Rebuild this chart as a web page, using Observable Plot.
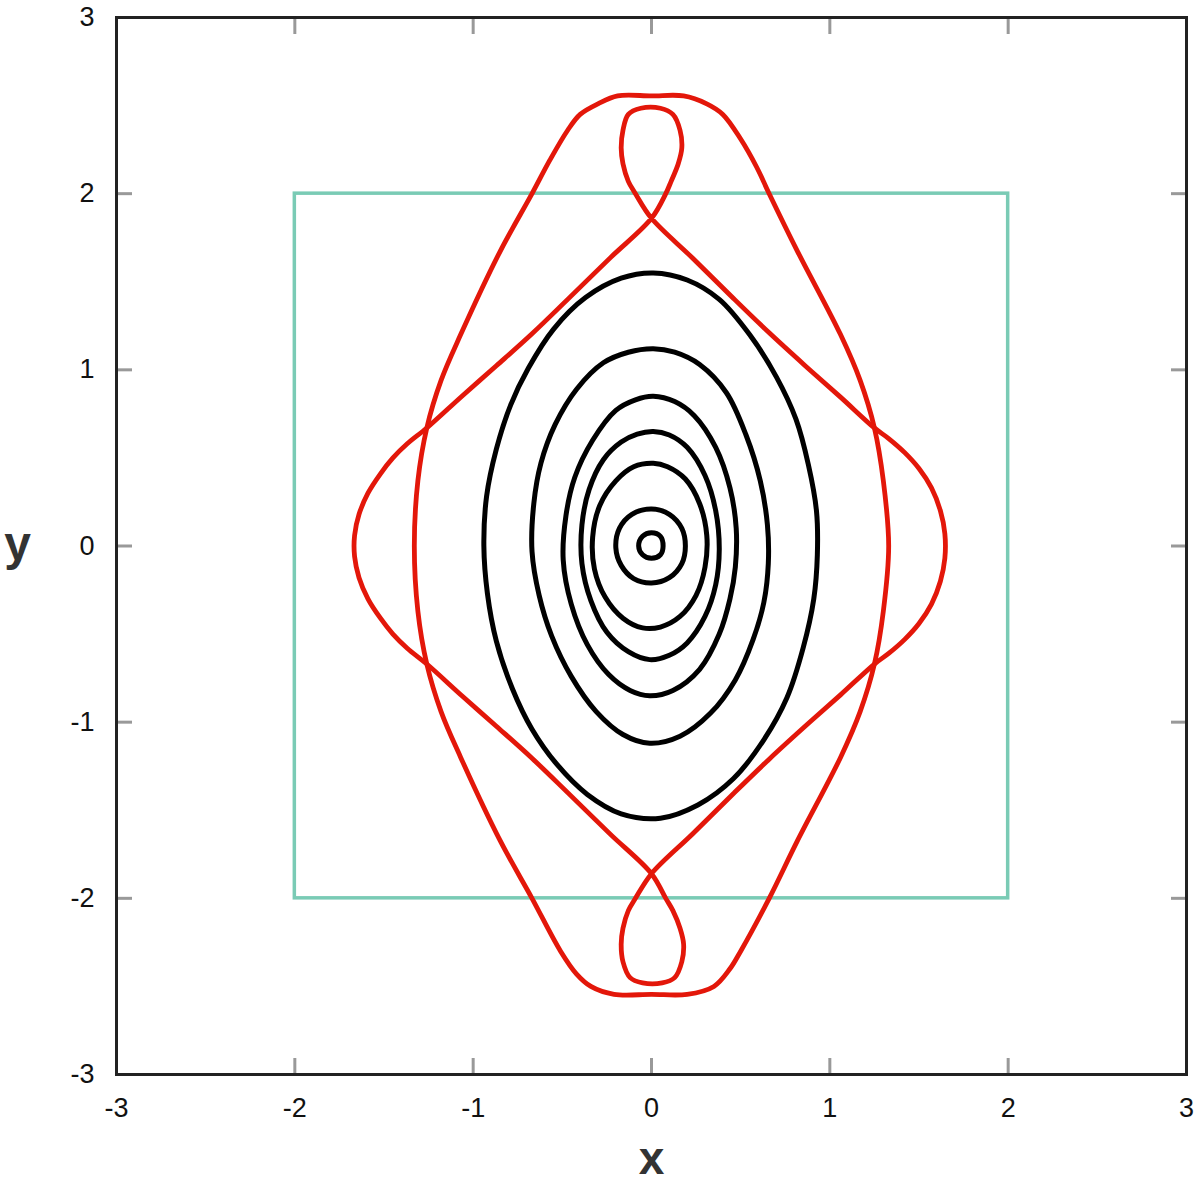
<!DOCTYPE html>
<html>
<head>
<meta charset="utf-8">
<script src="https://cdn.jsdelivr.net/npm/d3@7"></script>
<script src="https://cdn.jsdelivr.net/npm/@observablehq/plot@0.6"></script>
<style>
  html, body { margin: 0; padding: 0; background: #fff; }
  #chart { width: 1200px; height: 1185px; }
</style>
</head>
<body>
<div id="chart"></div>
<script>
// Tick values
const xTicks = [-3, -2, -1, 0, 1, 2, 3];
const yTicks = [-3, -2, -1, 0, 1, 2, 3];

// Teal square (corners)
const boxX = [-2, 2];
const boxY = [-2, 2];

// Black closed orbits, [x, y]
const ring1 = [[0.01,1.55],[0.20,1.51],[0.38,1.40],[0.55,1.20],[0.70,0.96],[0.81,0.72],[0.88,0.46],[0.925,0.20],[0.93,-0.05],[0.91,-0.30],[0.85,-0.58],[0.76,-0.86],[0.63,-1.10],[0.46,-1.32],[0.26,-1.47],[0.05,-1.545],[-0.17,-1.52],[-0.36,-1.41],[-0.53,-1.24],[-0.67,-1.04],[-0.78,-0.81],[-0.87,-0.54],[-0.92,-0.27],[-0.94,0],[-0.925,0.28],[-0.87,0.55],[-0.79,0.80],[-0.69,1.01],[-0.55,1.23],[-0.37,1.41],[-0.17,1.52]];
const ring2 = [[0.01,1.12],[0.13,1.10],[0.27,1.03],[0.42,0.87],[0.53,0.63],[0.61,0.37],[0.65,0.12],[0.655,-0.10],[0.63,-0.32],[0.57,-0.53],[0.47,-0.76],[0.33,-0.95],[0.16,-1.08],[-0.01,-1.12],[-0.16,-1.07],[-0.31,-0.94],[-0.45,-0.74],[-0.56,-0.51],[-0.63,-0.28],[-0.67,-0.03],[-0.66,0.24],[-0.62,0.47],[-0.54,0.69],[-0.42,0.89],[-0.27,1.04],[-0.13,1.10]];
const ring3 = [[0.01,0.85],[0.13,0.82],[0.24,0.74],[0.36,0.56],[0.44,0.33],[0.475,0.10],[0.47,-0.12],[0.44,-0.30],[0.38,-0.50],[0.27,-0.70],[0.12,-0.82],[-0.01,-0.85],[-0.12,-0.82],[-0.24,-0.73],[-0.36,-0.56],[-0.45,-0.33],[-0.495,-0.08],[-0.48,0.17],[-0.43,0.39],[-0.33,0.60],[-0.20,0.77],[-0.09,0.83]];
const ring4 = [[0.01,0.65],[0.10,0.63],[0.20,0.56],[0.30,0.40],[0.36,0.20],[0.38,-0.02],[0.36,-0.22],[0.30,-0.40],[0.20,-0.55],[0.10,-0.62],[-0.01,-0.645],[-0.13,-0.60],[-0.25,-0.49],[-0.34,-0.31],[-0.39,-0.10],[-0.39,0.12],[-0.35,0.32],[-0.27,0.49],[-0.17,0.59],[-0.08,0.635]];
const ring5 = [[0.01,0.47],[0.09,0.45],[0.19,0.38],[0.27,0.24],[0.31,0.06],[0.30,-0.12],[0.25,-0.28],[0.16,-0.40],[0.05,-0.46],[-0.05,-0.465],[-0.16,-0.41],[-0.26,-0.29],[-0.32,-0.13],[-0.33,0.05],[-0.29,0.23],[-0.20,0.37],[-0.10,0.45]];
const ring6 = [[0,0.21],[0.10,0.18],[0.17,0.10],[0.19,0],[0.17,-0.10],[0.10,-0.18],[0,-0.21],[-0.10,-0.185],[-0.17,-0.11],[-0.20,-0.01],[-0.18,0.10],[-0.11,0.18]];
const ring7 = [[0,0.075],[0.05,0.055],[0.065,0],[0.05,-0.05],[0,-0.07],[-0.05,-0.05],[-0.072,0],[-0.05,0.055]];

// Red outer curve
const outerRed = [[-0.19,2.555],[0,2.555],[0.18,2.555],[0.31,2.51],[0.40,2.45],[0.50,2.31],[0.59,2.15],[0.66,2.00],[0.82,1.67],[1.06,1.20],[1.17,0.94],[1.25,0.67],[1.30,0.37],[1.33,0],[1.30,-0.37],[1.25,-0.67],[1.17,-0.94],[1.06,-1.20],[0.82,-1.67],[0.66,-2.00],[0.50,-2.30],[0.44,-2.40],[0.35,-2.50],[0.20,-2.545],[0,-2.545],[-0.21,-2.545],[-0.34,-2.50],[-0.42,-2.43],[-0.51,-2.30],[-0.67,-2.00],[-0.85,-1.67],[-1.07,-1.20],[-1.18,-0.94],[-1.26,-0.67],[-1.31,-0.37],[-1.33,0],[-1.31,0.37],[-1.26,0.67],[-1.18,0.94],[-1.07,1.20],[-0.85,1.67],[-0.67,2.00],[-0.57,2.19],[-0.47,2.36],[-0.40,2.45],[-0.30,2.51]];

// Red diamond with two loops (one closed, self-crossing path)
const loopRed = [
  [0,1.86],[0.23,1.635],[0.46,1.405],[0.66,1.21],[0.86,1.025],[1.06,0.845],[1.25,0.67],
  [1.33,0.61],[1.42,0.53],[1.50,0.44],[1.57,0.33],[1.62,0.20],[1.645,0.07],[1.645,-0.07],[1.62,-0.20],[1.57,-0.33],[1.50,-0.44],[1.42,-0.53],[1.33,-0.61],
  [1.25,-0.67],[1.06,-0.845],[0.86,-1.025],[0.66,-1.21],[0.46,-1.405],[0.23,-1.635],[0,-1.86],
  [-0.09,-2.00],[-0.13,-2.07],[-0.16,-2.17],[-0.17,-2.26],[-0.16,-2.36],[-0.12,-2.45],[-0.05,-2.48],[0.06,-2.48],[0.13,-2.45],[0.17,-2.36],[0.18,-2.26],[0.16,-2.17],[0.12,-2.07],[0.08,-2.00],
  [0,-1.86],[-0.23,-1.637],[-0.47,-1.40],[-0.67,-1.205],[-0.87,-1.023],[-1.06,-0.853],[-1.26,-0.67],
  [-1.37,-0.58],[-1.45,-0.50],[-1.52,-0.41],[-1.59,-0.30],[-1.64,-0.18],[-1.665,-0.06],[-1.665,0.06],[-1.64,0.18],[-1.59,0.30],[-1.52,0.41],[-1.45,0.50],[-1.37,0.58],
  [-1.26,0.67],[-1.06,0.853],[-0.87,1.023],[-0.67,1.205],[-0.47,1.40],[-0.23,1.637],[0,1.86],
  [0.08,2.00],[0.11,2.07],[0.15,2.17],[0.17,2.26],[0.16,2.36],[0.12,2.45],[0.05,2.485],[-0.06,2.485],[-0.13,2.45],[-0.16,2.36],[-0.17,2.26],[-0.16,2.17],[-0.13,2.07],[-0.09,2.00]
];

const rings = [ring1, ring2, ring3, ring4, ring5, ring6, ring7];
const RED = "#e3170a";
const TEAL = "#7acbb5";
const fmt = d => String(d);
const px = d => d[0], py = d => d[1];

const chart = Plot.plot({
  width: 1200,
  height: 1185,
  marginLeft: 116,
  marginRight: 14,
  marginTop: 17,
  marginBottom: 111,
  x: {domain: [-3, 3]},
  y: {domain: [-3, 3]},
  style: {fontFamily: "'Liberation Sans', Arial, sans-serif", background: "#fff", color: "#111"},
  marks: [
    Plot.rect([{x1: boxX[0], x2: boxX[1], y1: boxY[0], y2: boxY[1]}],
      {x1: "x1", x2: "x2", y1: "y1", y2: "y2", fill: "none", stroke: TEAL, strokeWidth: 3.5}),
    ...rings.map(r => Plot.line(r, {x: px, y: py, curve: "catmull-rom-closed", stroke: "#000", strokeWidth: 5})),
    Plot.line(outerRed, {x: px, y: py, curve: "catmull-rom-closed", stroke: RED, strokeWidth: 4.8}),
    Plot.line(loopRed, {x: px, y: py, curve: "catmull-rom-closed", stroke: RED, strokeWidth: 4.8}),
    // inward ticks on all four sides
    Plot.axisX(xTicks, {anchor: "bottom", tickSize: -16, stroke: "#999", strokeWidth: 3, tickFormat: () => "", label: null}),
    Plot.axisX(xTicks, {anchor: "top", tickSize: -16, stroke: "#999", strokeWidth: 3, tickFormat: () => "", label: null}),
    Plot.axisY(yTicks, {anchor: "left", tickSize: -16, stroke: "#999", strokeWidth: 3, tickFormat: () => "", label: null}),
    Plot.axisY(yTicks, {anchor: "right", tickSize: -16, stroke: "#999", strokeWidth: 3, tickFormat: () => "", label: null}),
    // tick labels
    Plot.axisX(xTicks, {anchor: "bottom", tickSize: 0, tickPadding: 23, fontSize: 27, tickFormat: fmt, label: null}),
    Plot.axisY(yTicks, {anchor: "left", tickSize: 0, tickPadding: 22, fontSize: 27, tickFormat: fmt, label: null}),
    Plot.frame({stroke: "#222", strokeWidth: 3}),
    // axis titles
    Plot.text(["x"], {frameAnchor: "bottom", dy: 85, lineAnchor: "middle", textAnchor: "middle", fontSize: 46, fontWeight: "bold", fill: "#333"}),
    Plot.text(["y"], {frameAnchor: "left", dx: -99, dy: -1, lineAnchor: "middle", textAnchor: "middle", fontSize: 48, fontWeight: "bold", fill: "#333"})
  ]
});
document.getElementById("chart").appendChild(chart);
</script>
</body>
</html>
